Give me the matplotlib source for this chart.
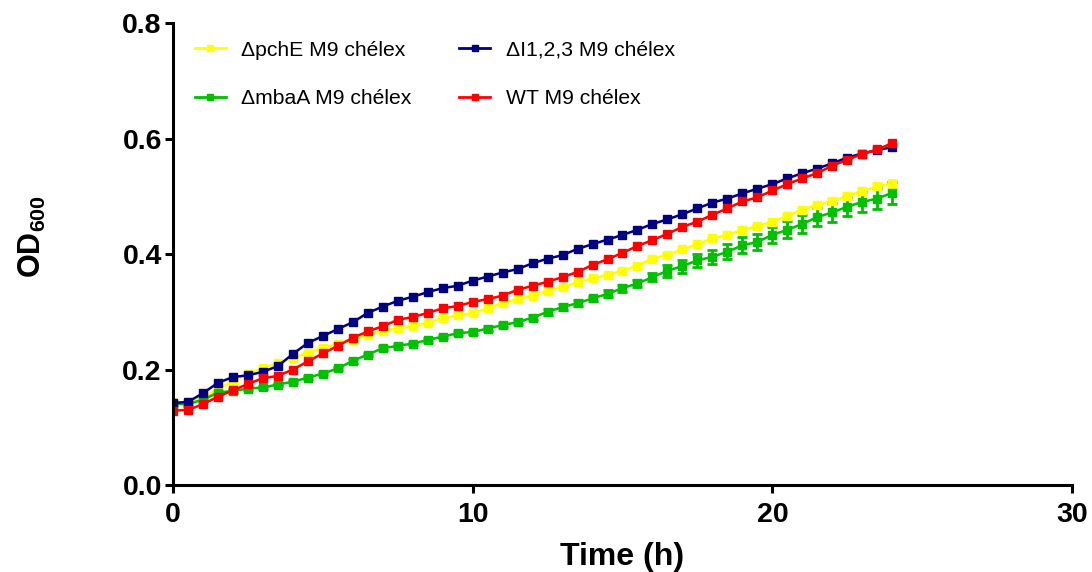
import matplotlib
matplotlib.use("Agg")
import matplotlib.pyplot as plt
from matplotlib.lines import Line2D
import numpy as np

plt.rcParams['font.family'] = ['Liberation Sans', 'DejaVu Sans']
plt.rcParams['mathtext.fontset'] = 'custom'
plt.rcParams['mathtext.bf'] = 'Liberation Sans:bold'
plt.rcParams['mathtext.rm'] = 'Liberation Sans'

# temps de mesure (h), une mesure toutes les 30 min
time_h = np.arange(0, 24.01, 0.5)

# valeurs
wt = [0.129, 0.130, 0.140, 0.153, 0.164, 0.175, 0.185, 0.189, 0.200, 0.214,
      0.228, 0.241, 0.255, 0.266, 0.275, 0.286, 0.291, 0.298, 0.306, 0.310,
      0.317, 0.322, 0.328, 0.338, 0.345, 0.352, 0.360, 0.369, 0.381, 0.391,
      0.402, 0.414, 0.424, 0.435, 0.447, 0.456, 0.468, 0.479, 0.491, 0.498,
      0.510, 0.521, 0.531, 0.540, 0.553, 0.563, 0.573, 0.581, 0.592]
d_i123 = [0.142, 0.144, 0.159, 0.177, 0.187, 0.190, 0.196, 0.206, 0.227, 0.246,
          0.258, 0.270, 0.282, 0.298, 0.309, 0.319, 0.326, 0.334, 0.341, 0.345,
          0.354, 0.361, 0.368, 0.374, 0.384, 0.392, 0.398, 0.409, 0.417, 0.425,
          0.433, 0.442, 0.452, 0.460, 0.469, 0.479, 0.489, 0.496, 0.505, 0.513,
          0.521, 0.531, 0.540, 0.548, 0.557, 0.567, 0.574, 0.580, 0.585]
d_pche = [0.143, 0.143, 0.152, 0.167, 0.179, 0.193, 0.202, 0.211, 0.220, 0.229,
          0.238, 0.244, 0.251, 0.260, 0.267, 0.272, 0.275, 0.281, 0.289, 0.294,
          0.298, 0.306, 0.315, 0.322, 0.328, 0.336, 0.343, 0.351, 0.358, 0.364,
          0.371, 0.380, 0.392, 0.399, 0.408, 0.417, 0.427, 0.433, 0.442, 0.448,
          0.456, 0.466, 0.477, 0.485, 0.492, 0.500, 0.509, 0.517, 0.522]
d_mbaa = [0.141, 0.140, 0.148, 0.160, 0.163, 0.167, 0.169, 0.174, 0.179, 0.186,
          0.193, 0.202, 0.215, 0.226, 0.237, 0.241, 0.245, 0.251, 0.257, 0.263,
          0.265, 0.271, 0.277, 0.282, 0.290, 0.300, 0.308, 0.315, 0.323, 0.331,
          0.341, 0.349, 0.360, 0.371, 0.379, 0.389, 0.395, 0.404, 0.415, 0.421,
          0.433, 0.442, 0.452, 0.464, 0.472, 0.482, 0.490, 0.496, 0.506]
err_mbaa = [0.003, 0.003, 0.003, 0.003, 0.003, 0.003, 0.003, 0.003, 0.003, 0.003,
            0.003, 0.003, 0.003, 0.003, 0.003, 0.003, 0.003, 0.003, 0.003, 0.003,
            0.004, 0.004, 0.004, 0.004, 0.004, 0.005, 0.005, 0.005, 0.005, 0.006,
            0.006, 0.006, 0.007, 0.010, 0.011, 0.011, 0.012, 0.013, 0.014, 0.014,
            0.014, 0.015, 0.015, 0.016, 0.016, 0.017, 0.017, 0.018, 0.019]
err_pche = [0.002] * 40 + [0.003, 0.003, 0.004, 0.004, 0.005, 0.005, 0.006, 0.006, 0.007]

series = [
    ("ΔpchE M9 chélex", d_pche, err_pche, "#ffff00"),
    ("ΔmbaA M9 chélex", d_mbaa, err_mbaa, "#00c000"),
    ("ΔI1,2,3 M9 chélex", d_i123, None, "#000080"),
    ("WT M9 chélex", wt, None, "#ff0000"),
]

fig = plt.figure(figsize=(10.92, 5.72), dpi=100)
ax = fig.add_axes([0.1584, 0.152, 0.8233, 0.8078])

handles = []
for label, vals, err, col in series:
    ax.errorbar(time_h, vals, yerr=err, color=col, marker='s', markersize=6,
                linewidth=1.8, elinewidth=2, capsize=3.5, capthick=2)
    handles.append(Line2D([], [], color=col, marker='s', markersize=5,
                          linewidth=2, label=label))

ax.set_xlim(0, 30)
ax.set_ylim(0, 0.8)
ax.set_xticks([0, 10, 20, 30])
ax.set_yticks([0.0, 0.2, 0.4, 0.6, 0.8])
ax.set_yticklabels(['0.0', '0.2', '0.4', '0.6', '0.8'])

for s in ['top', 'right']:
    ax.spines[s].set_visible(False)
for s in ['left', 'bottom']:
    ax.spines[s].set_linewidth(2.2)
ax.tick_params(width=2.2, length=6, labelsize=20.5)
ax.tick_params(axis='y', pad=2)
ax.tick_params(axis='x', pad=6)
for t in ax.get_xticklabels() + ax.get_yticklabels():
    t.set_fontweight('bold')

ax.set_xlabel('Time (h)', fontsize=23, fontweight='bold', labelpad=10)
ax.text(-0.156, 0.537, r'$\mathbf{OD}_{\mathbf{600}}$', fontsize=22,
        rotation=90, ha='center', va='center', transform=ax.transAxes)

leg = ax.legend(handles=handles, ncol=2, loc='upper left', frameon=False,
                fontsize=15.2, bbox_to_anchor=(0.0245, 0.962), borderaxespad=0,
                borderpad=0, handlelength=1.45, columnspacing=2.25,
                labelspacing=1.4, handletextpad=0.75)

fig.savefig('out.png', dpi=100)
